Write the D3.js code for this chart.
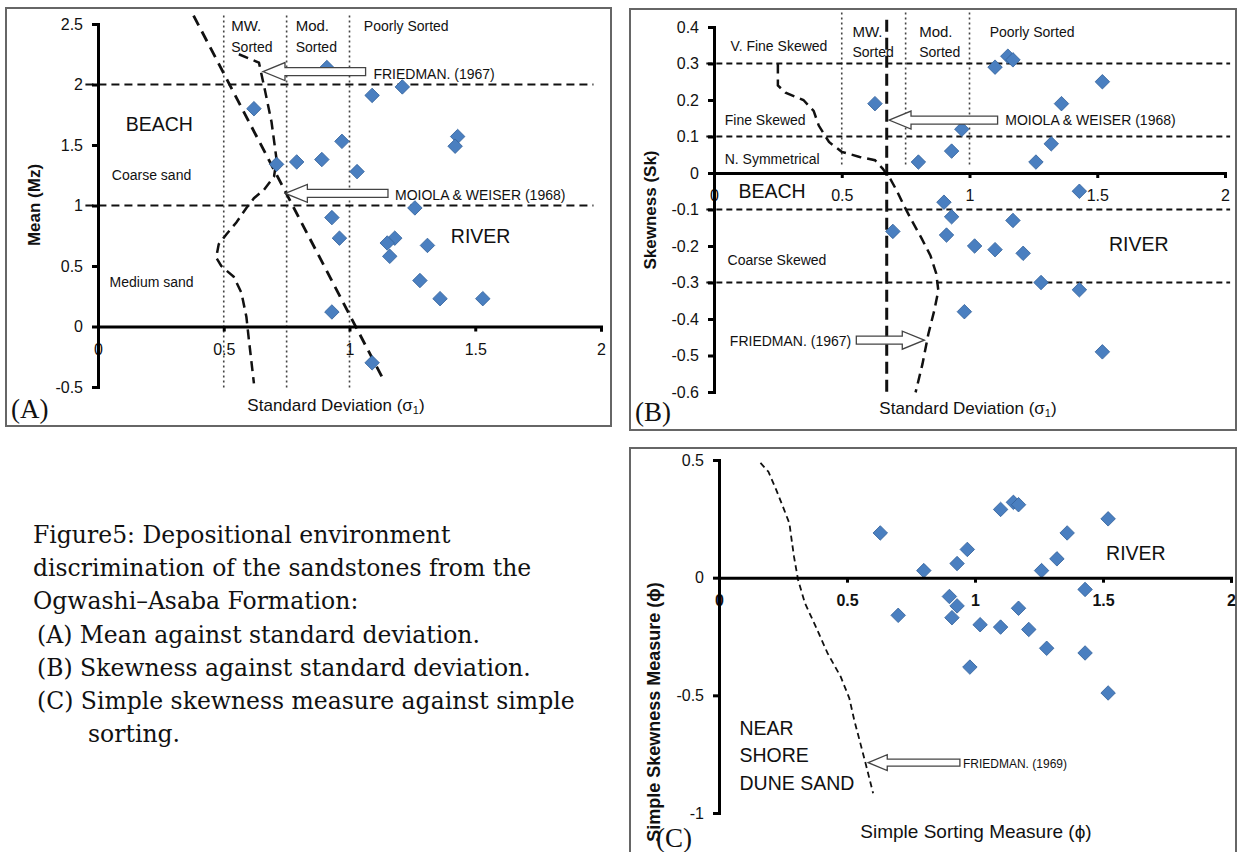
<!DOCTYPE html>
<html>
<head>
<meta charset="utf-8">
<script src="https://cdn.jsdelivr.net/npm/d3@7"></script>
<style>
body{margin:0;background:#fff}
text{font-family:"Liberation Sans",Arial,sans-serif;fill:#111}
.cap{font-family:"DejaVu Serif","Liberation Serif",serif;font-size:23.5px}
.tag{font-family:"Liberation Serif","DejaVu Serif",serif;font-size:27px}
</style>
</head>
<body>
<svg id="fig"></svg>
<script>
// ---- panel A : mean vs standard deviation ----
const sdA   = [0.91,1.21,1.09,0.62,1.43,1.42,0.97,0.71,0.79,0.89,1.03,1.26,0.93,0.96,1.18,1.15,1.16,1.31,1.28,1.36,1.53,0.93,1.09];
const meanA = [2.14,1.98,1.91,1.80,1.57,1.49,1.53,1.34,1.36,1.38,1.28,0.98,0.90,0.73,0.73,0.69,0.58,0.67,0.38,0.23,0.23,0.12,-0.30];
// ---- panel B / C : skewness vs sorting (same samples) ----
const sortB = [0.63,1.10,1.15,1.17,1.52,1.36,0.97,0.93,1.32,1.26,0.80,1.43,0.90,0.93,1.17,0.70,0.91,1.02,1.10,1.21,1.28,1.43,0.98,1.52];
const skewB = [0.19,0.29,0.32,0.31,0.25,0.19,0.12,0.06,0.08,0.03,0.03,-0.05,-0.08,-0.12,-0.13,-0.16,-0.17,-0.20,-0.21,-0.22,-0.30,-0.32,-0.38,-0.49];

// boundary lines
const friedmanA = [[0.56,2.25],[0.64,2.18],[0.66,1.99],[0.69,1.69],[0.71,1.38],[0.70,1.24],[0.66,1.13],[0.62,1.06],[0.59,0.98],[0.55,0.86],[0.51,0.76],[0.48,0.68],[0.47,0.57],[0.49,0.50],[0.54,0.41],[0.57,0.28],[0.59,0.08],[0.60,-0.11],[0.62,-0.47]];
const moiolaA   = [[0.38,2.57],[1.14,-0.46]];
const friedmanB = [[0.25,0.30],[0.25,0.24],[0.28,0.22],[0.35,0.20],[0.39,0.17],[0.41,0.13],[0.45,0.085],[0.50,0.058],[0.57,0.044],[0.63,0.035],[0.66,0.012],[0.69,-0.016],[0.715,-0.048],[0.743,-0.089],[0.777,-0.134],[0.811,-0.177],[0.847,-0.226],[0.87,-0.276],[0.878,-0.322],[0.862,-0.377],[0.839,-0.441],[0.816,-0.523],[0.789,-0.601]];
const moiolaB   = [[0.676,0.42],[0.676,-0.6]];
const friedmanC = [[0.162,0.488],[0.193,0.45],[0.224,0.372],[0.255,0.287],[0.275,0.231],[0.282,0.174],[0.293,0.089],[0.309,-0.01],[0.336,-0.109],[0.378,-0.208],[0.424,-0.321],[0.475,-0.42],[0.509,-0.512],[0.528,-0.604],[0.552,-0.703],[0.574,-0.795],[0.602,-0.916]];

const sortClassesA = [0.5,0.75,1];
const sizeClassesA = [1,2];
const skewClassesB = [0.3,0.1,-0.1,-0.3];

const svg = d3.select("#fig").attr("width",1240).attr("height",852);
svg.append("rect").attr("width",1240).attr("height",852).attr("fill","#fff");

function panel(cfg){
    const g = svg.append("g");
    g.append("rect")
        .attr("x",cfg.frame[0]).attr("y",cfg.frame[1])
        .attr("width",cfg.frame[2]).attr("height",cfg.frame[3])
        .attr("fill","none").attr("stroke","#666").attr("stroke-width",2);
    const x = d3.scaleLinear().domain([0,2]).range(cfg.xr);
    const y = d3.scaleLinear().domain(cfg.yd).range(cfg.yr);
    return {g,x,y};
}

function axes(p,yticks,boldX){
    const xa = p.g.append("g").attr("transform",`translate(0,${p.y(0)})`)
        .call(d3.axisBottom(p.x).tickValues([0,0.5,1,1.5,2]).tickFormat(d=>String(d))
            .tickSizeOuter(0).tickSize(5).tickPadding(12));
    const ya = p.g.append("g").attr("transform",`translate(${p.x(0)},0)`)
        .call(d3.axisLeft(p.y).tickValues(yticks).tickFormat(d=>String(d))
            .tickSizeOuter(0).tickSize(6).tickPadding(9));
    [xa,ya].forEach(a=>{
        a.attr("font-family",null).attr("font-size",null);
        a.selectAll("path,line").attr("stroke","#000").attr("stroke-width",3);
        a.selectAll("text").style("font-size","16px").attr("fill","#222");
    });
    if(boldX) xa.selectAll("text").style("font-weight","bold");
}

function guide(p,pts,dash,w,col){
    p.g.append("path")
        .attr("d",d3.line().x(d=>p.x(d[0])).y(d=>p.y(d[1]))(pts))
        .attr("fill","none").attr("stroke",col||"#111").attr("stroke-width",w)
        .attr("stroke-dasharray",dash);
}

function points(p,xs,ys){
    p.g.selectAll(null).data(xs.map((v,i)=>[v,ys[i]])).enter().append("path")
        .attr("d",d3.symbol(d3.symbolSquare,105)())
        .attr("transform",d=>`translate(${p.x(d[0])},${p.y(d[1])}) rotate(45)`)
        .attr("fill","#4a7fc0").attr("stroke","#35639c").attr("stroke-width",0.8);
}

function arrow(p,tip,tail,yv,big){
    const tx=p.x(tip), ex=p.x(tail), yy=p.y(yv);
    const dir = ex>tx?1:-1, L=(big?22:19)*dir, H=big?9:8, S=big?4:3.5;
    p.g.append("path")
        .attr("d",`M${tx},${yy}L${tx+L},${yy-H}L${tx+L},${yy-S}L${ex},${yy-S}L${ex},${yy+S}L${tx+L},${yy+S}L${tx+L},${yy+H}Z`)
        .attr("fill","#fff").attr("stroke","#444").attr("stroke-width",1.3);
}

function label(p,t,xv,yv,size,anchor,weight){
    p.g.append("text").attr("x",p.x(xv)).attr("y",p.y(yv))
        .attr("dominant-baseline","central")
        .attr("text-anchor",anchor||"start")
        .style("font-size",size+"px").style("font-weight",weight||"normal")
        .text(t);
}

function titles(p,xt,xc,xy,xs,yt,yx,yc,ys){
    p.g.append("text").attr("x",xc).attr("y",xy).attr("text-anchor","middle")
        .attr("dominant-baseline","central")
        .style("font-size",xs+"px").html(xt);
    p.g.append("text").attr("transform",`translate(${yx},${yc}) rotate(-90)`)
        .attr("text-anchor","middle").attr("dominant-baseline","central")
        .style("font-size",ys+"px").style("font-weight","bold").text(yt);
}

const sigma = "Standard Deviation (σ<tspan dy='5' font-size='11'>1</tspan><tspan dy='-5'>)</tspan>";

// ================= A =================
const A = panel({frame:[6,8,605,418], xr:[98,601], yd:[-0.5,2.5], yr:[387,24]});
sortClassesA.forEach(v=>guide(A,[[v,2.57],[v,-0.51]],"2,3",1.6,"#444"));
sizeClassesA.forEach(v=>guide(A,[[-0.05,v],[1.97,v]],"8,5",2));
guide(A,moiolaA,"11,7",2.8);
guide(A,friedmanA,"10,6",2.5);
points(A,sdA,meanA);
arrow(A,0.656,1.064,2.107,true);
arrow(A,0.745,1.153,1.10,true);
axes(A,[-0.5,0,0.5,1,1.5,2,2.5]);
label(A,"MW.",0.53,2.49,15); label(A,"Sorted",0.53,2.31,14);
label(A,"Mod.",0.786,2.49,15); label(A,"Sorted",0.786,2.31,14);
label(A,"Poorly Sorted",1.057,2.48,14);
label(A,"FRIEDMAN. (1967)",1.095,2.09,14);
label(A,"MOIOLA & WEISER (1968)",1.181,1.09,14);
label(A,"BEACH",0.11,1.67,19.5);
label(A,"Coarse sand",0.055,1.25,14);
label(A,"Medium sand",0.046,0.365,14);
label(A,"RIVER",1.403,0.746,19.5);
titles(A,sigma,336,405,17,"Mean (Mz)",34,205,17);
A.g.append("text").attr("class","tag").attr("x",11).attr("y",418).text("(A)");

// ================= B =================
const B = panel({frame:[630,9,606,421], xr:[714,1225], yd:[-0.6,0.4], yr:[392,27]});
sortClassesA.forEach(v=>guide(B,[[v,0.44],[v,0.02]],"2,3",1.6,"#444"));
skewClassesB.forEach(v=>guide(B,[[-0.03,v],[2.02,v]],"6,4",2));
guide(B,moiolaB,"12,6",3);
guide(B,friedmanB,"10,6",2.5);
points(B,sortB,skewB);
arrow(B,0.685,1.11,0.145,true);
arrow(B,0.823,0.557,-0.458,true);
axes(B,[-0.6,-0.5,-0.4,-0.3,-0.2,-0.1,0,0.1,0.2,0.3,0.4]);
label(B,"V. Fine Skewed",0.065,0.348,14);
label(B,"Fine Skewed",0.042,0.146,14);
label(B,"N. Symmetrical",0.042,0.037,14);
label(B,"BEACH",0.096,-0.048,19.5);
label(B,"Coarse Skewed",0.053,-0.238,14);
label(B,"RIVER",1.546,-0.194,19.5);
label(B,"MW.",0.542,0.387,15); label(B,"Sorted",0.542,0.332,14);
label(B,"Mod.",0.803,0.387,15); label(B,"Sorted",0.803,0.332,14);
label(B,"Poorly Sorted",1.079,0.387,14);
label(B,"MOIOLA & WEISER (1968)",1.14,0.145,14);
label(B,"FRIEDMAN. (1967)",0.537,-0.46,14,"end");
titles(B,sigma,968,408,17,"Skewness (Sk)",650,210,17);
B.g.append("text").attr("class","tag").attr("x",635).attr("y",421).text("(B)");

// ================= C =================
const C = panel({frame:[630,448,606,410], xr:[719,1231], yd:[-1,0.5], yr:[813,460]});
guide(C,friedmanC,"6,4",1.8);
points(C,sortB,skewB);
arrow(C,0.583,0.941,-0.786,false);
axes(C,[-1,-0.5,0,0.5],true);
label(C,"RIVER",1.512,0.106,19.5);
label(C,"NEAR",0.08,-0.64,19.5);
label(C,"SHORE",0.08,-0.753,19.5);
label(C,"DUNE SAND",0.08,-0.873,19.5);
label(C,"FRIEDMAN. (1969)",0.953,-0.79,12);
titles(C,"Simple Sorting Measure (ϕ)",976,831,19,"Simple Skewness Measure (ϕ)",654,712,18);
C.g.append("text").attr("class","tag").attr("x",656).attr("y",847).text("(C)");

// ================= caption =================
const caption = [
    ["Figure5: Depositional environment",33],
    ["discrimination of the sandstones from the",33],
    ["Ogwashi\u2013Asaba Formation:",33],
    ["(A) Mean against standard deviation.",37],
    ["(B) Skewness against standard deviation.",37],
    ["(C) Simple skewness measure against simple",37],
    ["sorting.",88]
];
svg.append("g").selectAll("text").data(caption).enter().append("text")
    .attr("class","cap").attr("x",d=>d[1]).attr("y",(d,i)=>543+i*33.2).text(d=>d[0]);
</script>
</body>
</html>
